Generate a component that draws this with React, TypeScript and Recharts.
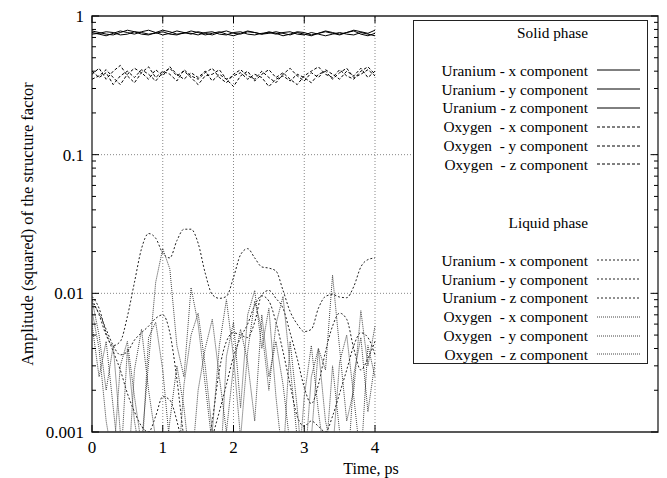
import React from "react";
import {
  LineChart,
  Line,
  XAxis,
  YAxis,
  ReferenceLine,
  ReferenceArea,
} from "recharts";

const TIME = [
  0, 0.1, 0.2, 0.3, 0.4, 0.5, 0.6, 0.7, 0.8, 0.9, 1.0, 1.1, 1.2, 1.3, 1.4, 1.5,
  1.6, 1.7, 1.8, 1.9, 2.0, 2.1, 2.2, 2.3, 2.4, 2.5, 2.6, 2.7, 2.8, 2.9, 3.0,
  3.1, 3.2, 3.3, 3.4, 3.5, 3.6, 3.7, 3.8, 3.9, 4.0,
];

// solid phase
const U_X_SOLID = [0.76, 0.74, 0.72, 0.75, 0.78, 0.76, 0.74, 0.77, 0.79, 0.76, 0.73, 0.75, 0.78, 0.76, 0.74, 0.77, 0.75, 0.73, 0.76, 0.78, 0.75, 0.74, 0.77, 0.76, 0.74, 0.75, 0.77, 0.75, 0.73, 0.76, 0.74, 0.72, 0.75, 0.77, 0.75, 0.73, 0.76, 0.78, 0.74, 0.72, 0.75];
const U_Y_SOLID = [0.78, 0.76, 0.74, 0.73, 0.76, 0.79, 0.77, 0.74, 0.73, 0.76, 0.79, 0.77, 0.74, 0.75, 0.78, 0.76, 0.73, 0.75, 0.77, 0.74, 0.72, 0.75, 0.78, 0.76, 0.74, 0.77, 0.75, 0.72, 0.74, 0.77, 0.76, 0.73, 0.75, 0.78, 0.76, 0.74, 0.76, 0.79, 0.77, 0.75, 0.79];
const U_Z_SOLID = [0.74, 0.75, 0.77, 0.76, 0.73, 0.74, 0.77, 0.76, 0.74, 0.75, 0.77, 0.74, 0.73, 0.76, 0.75, 0.73, 0.76, 0.77, 0.74, 0.73, 0.76, 0.77, 0.74, 0.73, 0.75, 0.76, 0.74, 0.76, 0.77, 0.74, 0.73, 0.76, 0.74, 0.72, 0.74, 0.76, 0.74, 0.73, 0.76, 0.74, 0.72];
const O_X_SOLID = [0.38, 0.42, 0.35, 0.4, 0.44, 0.37, 0.33, 0.39, 0.43, 0.36, 0.4, 0.38, 0.34, 0.41, 0.37, 0.35, 0.39, 0.42, 0.36, 0.33, 0.38, 0.41, 0.37, 0.35, 0.4, 0.36, 0.33, 0.38, 0.42, 0.37, 0.34, 0.39, 0.36, 0.41, 0.38, 0.35, 0.4, 0.37, 0.42, 0.36, 0.4];
const O_Y_SOLID = [0.35, 0.37, 0.41, 0.36, 0.32, 0.38, 0.42, 0.39, 0.35, 0.41, 0.37, 0.43, 0.38, 0.35, 0.39, 0.36, 0.4, 0.34, 0.38, 0.35, 0.31, 0.37, 0.4, 0.34, 0.38, 0.41, 0.36, 0.39, 0.35, 0.32, 0.37, 0.4, 0.43, 0.38, 0.36, 0.41, 0.37, 0.35, 0.4, 0.43, 0.38];
const O_Z_SOLID = [0.4, 0.36, 0.39, 0.32, 0.37, 0.4, 0.36, 0.41, 0.38, 0.34, 0.39, 0.42, 0.37, 0.4, 0.36, 0.32, 0.37, 0.38, 0.41, 0.35, 0.37, 0.39, 0.35, 0.38, 0.36, 0.31, 0.35, 0.37, 0.34, 0.38, 0.36, 0.33, 0.38, 0.4, 0.35, 0.39, 0.42, 0.36, 0.38, 0.41, 0.37];

// liquid phase
const U_X_LIQUID = [0.009, 0.007, 0.005, 0.0042, 0.0045, 0.0068, 0.012, 0.021, 0.027, 0.025, 0.0195, 0.018, 0.024, 0.029, 0.029, 0.023, 0.014, 0.0098, 0.0092, 0.0095, 0.013, 0.019, 0.021, 0.018, 0.0155, 0.0152, 0.0145, 0.0105, 0.0074, 0.006, 0.0053, 0.0055, 0.0078, 0.0095, 0.0098, 0.0094, 0.0093, 0.0112, 0.0155, 0.0175, 0.018];
const U_Y_LIQUID = [0.0085, 0.0072, 0.0055, 0.0042, 0.0036, 0.0038, 0.0046, 0.0052, 0.0058, 0.0066, 0.007, 0.0052, 0.0024, 0.0009, 0.0005, 0.0004, 0.0006, 0.0012, 0.0028, 0.0045, 0.0052, 0.005, 0.0048, 0.0062, 0.0098, 0.0105, 0.0092, 0.0078, 0.0052, 0.0034, 0.0021, 0.0016, 0.0022, 0.0038, 0.0058, 0.0072, 0.0065, 0.004, 0.0028, 0.0034, 0.0045];
const U_Z_LIQUID = [0.0095, 0.0078, 0.0052, 0.0038, 0.0028, 0.0019, 0.0014, 0.0011, 0.001, 0.0013, 0.0018, 0.0017, 0.0012, 0.0007, 0.0004, 0.0003, 0.0005, 0.0009, 0.0014, 0.0022, 0.0035, 0.0048, 0.006, 0.0082, 0.0096, 0.0088, 0.0062, 0.0038, 0.0022, 0.0013, 0.0011, 0.0012, 0.0011, 0.001, 0.0013, 0.0019, 0.0028, 0.0042, 0.0052, 0.0048, 0.0036];
const O_X_LIQUID = [0.0075, 0.004, 0.0012, 0.0006, 0.003, 0.0045, 0.0018, 0.0008, 0.0032, 0.012, 0.021, 0.015, 0.0042, 0.0025, 0.011, 0.006, 0.0022, 0.0008, 0.0004, 0.0035, 0.0062, 0.0015, 0.007, 0.0105, 0.004, 0.0078, 0.0018, 0.0006, 0.0045, 0.0015, 0.0004, 0.0009, 0.004, 0.0028, 0.0135, 0.004, 0.0012, 0.002, 0.0075, 0.003, 0.0058];
const O_Y_LIQUID = [0.006, 0.0025, 0.0045, 0.0015, 0.0005, 0.004, 0.0012, 0.0006, 0.0048, 0.0062, 0.0028, 0.0008, 0.0004, 0.0022, 0.005, 0.0072, 0.003, 0.001, 0.0042, 0.009, 0.0035, 0.0009, 0.0038, 0.0088, 0.0055, 0.002, 0.006, 0.0095, 0.003, 0.0009, 0.0005, 0.0025, 0.004, 0.0012, 0.0007, 0.0032, 0.005, 0.0018, 0.0006, 0.0042, 0.0025];
const O_Z_LIQUID = [0.009, 0.005, 0.002, 0.0042, 0.001, 0.0004, 0.0028, 0.0055, 0.002, 0.0009, 0.0004, 0.0012, 0.003, 0.0015, 0.0005, 0.002, 0.004, 0.0065, 0.0025, 0.001, 0.003, 0.0055, 0.0032, 0.0012, 0.007, 0.0025, 0.0045, 0.0022, 0.0008, 0.0004, 0.0018, 0.0042, 0.0014, 0.0006, 0.003, 0.001, 0.0004, 0.0026, 0.0048, 0.0014, 0.0032];

const X_TICKS = [0, 1, 2, 3, 4];
const Y_MAJOR = [0.001, 0.01, 0.1, 1];
const Y_MINOR = [
  0.002, 0.003, 0.004, 0.005, 0.006, 0.007, 0.008, 0.009,
  0.02, 0.03, 0.04, 0.05, 0.06, 0.07, 0.08, 0.09,
  0.2, 0.3, 0.4, 0.5, 0.6, 0.7, 0.8, 0.9,
];

const SERIES = [
  { key: "uxs", values: U_X_SOLID, name: "Uranium - x component", phase: "solid", stroke: "#000", dash: undefined, curve: "linear" },
  { key: "uys", values: U_Y_SOLID, name: "Uranium - y component", phase: "solid", stroke: "#000", dash: undefined, curve: "linear" },
  { key: "uzs", values: U_Z_SOLID, name: "Uranium - z component", phase: "solid", stroke: "#000", dash: undefined, curve: "linear" },
  { key: "oxs", values: O_X_SOLID, name: "Oxygen  - x component", phase: "solid", stroke: "#000", dash: "3 2", curve: "linear" },
  { key: "oys", values: O_Y_SOLID, name: "Oxygen  - y component", phase: "solid", stroke: "#000", dash: "3 2", curve: "linear" },
  { key: "ozs", values: O_Z_SOLID, name: "Oxygen  - z component", phase: "solid", stroke: "#000", dash: "3 2", curve: "linear" },
  { key: "uxl", values: U_X_LIQUID, name: "Uranium - x component", phase: "liquid", stroke: "#222", dash: "2 2", curve: "monotone" },
  { key: "uyl", values: U_Y_LIQUID, name: "Uranium - y component", phase: "liquid", stroke: "#222", dash: "2 2", curve: "monotone" },
  { key: "uzl", values: U_Z_LIQUID, name: "Uranium - z component", phase: "liquid", stroke: "#222", dash: "2 2", curve: "monotone" },
  { key: "oxl", values: O_X_LIQUID, name: "Oxygen  - x component", phase: "liquid", stroke: "#444", dash: "1 1", curve: "linear" },
  { key: "oyl", values: O_Y_LIQUID, name: "Oxygen  - y component", phase: "liquid", stroke: "#444", dash: "1 1", curve: "linear" },
  { key: "ozl", values: O_Z_LIQUID, name: "Oxygen  - z component", phase: "liquid", stroke: "#444", dash: "1 1", curve: "linear" },
];

const data = TIME.map((t, i) => {
  const row: { [k: string]: number } = { t };
  SERIES.forEach((s) => (row[s.key] = s.values[i]));
  return row;
});

const FONT = "'Liberation Serif', 'Times New Roman', serif";
const W = 659;
const H = 470;
// plot frame in chart coordinates, used for the inward tick marks
const PLOT = { left: 84, top: 8, right: 650, bottom: 424 };

function YTick(props: any) {
  const { y, payload } = props;
  const v = payload.value;
  const major = Y_MAJOR.includes(v);
  const len = major ? 7 : 4;
  return (
    <g>
      <line x1={PLOT.left} x2={PLOT.left + len} y1={y} y2={y} stroke="#000" />
      <line x1={PLOT.right} x2={PLOT.right - len} y1={y} y2={y} stroke="#000" />
      {major && (
        <text x={PLOT.left - 8} y={y + 6} textAnchor="end" fontSize={17} fontFamily={FONT} fill="#000">
          {String(v)}
        </text>
      )}
    </g>
  );
}

function XTick(props: any) {
  const { x, payload } = props;
  return (
    <g>
      <line x1={x} x2={x} y1={PLOT.bottom} y2={PLOT.bottom - 7} stroke="#000" />
      <line x1={x} x2={x} y1={PLOT.top} y2={PLOT.top + 7} stroke="#000" />
      <text x={x} y={PLOT.bottom + 21} textAnchor="middle" fontSize={17} fontFamily={FONT} fill="#000">
        {payload.value}
      </text>
    </g>
  );
}

function LegendRow({ name, stroke, dash }: { name: string; stroke: string; dash?: string }) {
  return (
    <div style={{ display: "flex", alignItems: "center", height: 18.8, whiteSpace: "pre" }}>
      <span style={{ width: 174, textAlign: "right" }}>{name}</span>
      <svg width={52} height={10}>
        <line x1={9} x2={52} y1={5} y2={5} stroke={stroke} strokeDasharray={dash} strokeWidth={1} />
      </svg>
    </div>
  );
}

function LegendBox() {
  const solid = SERIES.filter((s) => s.phase === "solid");
  const liquid = SERIES.filter((s) => s.phase === "liquid");
  return (
    <div
      style={{
        position: "absolute",
        left: 405,
        top: 12,
        width: 235,
        height: 344,
        boxSizing: "border-box",
        border: "1.5px solid #222",
        background: "#fff",
        fontFamily: FONT,
        fontSize: 15.3,
        color: "#000",
        lineHeight: 1,
      }}
    >
      <div style={{ position: "absolute", top: 2, left: 0 }}>
        <div style={{ width: 174, textAlign: "right", height: 19, lineHeight: "19px" }}>Solid phase</div>
      </div>
      <div style={{ position: "absolute", top: 40, left: 0 }}>
        {solid.map((s) => (
          <LegendRow key={s.key} name={s.name} stroke={s.stroke} dash={s.dash} />
        ))}
      </div>
      <div style={{ position: "absolute", top: 192, left: 0 }}>
        <div style={{ width: 174, textAlign: "right", height: 19, lineHeight: "19px" }}>Liquid phase</div>
      </div>
      <div style={{ position: "absolute", top: 230, left: 0 }}>
        {liquid.map((s) => (
          <LegendRow key={s.key} name={s.name} stroke={s.stroke} dash={s.dash} />
        ))}
      </div>
    </div>
  );
}

export default function App() {
  return (
    <div style={{ position: "relative", width: W, height: H }}>
      <LineChart
        width={W}
        height={H}
        data={data}
        margin={{ top: 8, right: 9, bottom: 0, left: 0 }}
        style={{ fontFamily: FONT }}
      >
        <XAxis
          dataKey="t"
          type="number"
          domain={[0, 8]}
          ticks={X_TICKS}
          interval={0}
          axisLine={false}
          tickLine={false}
          tick={<XTick />}
          height={46}
          allowDataOverflow
          label={{
            value: "Time, ps",
            position: "insideBottom",
            offset: 4,
            dx: -4,
            style: { fontFamily: FONT, fontSize: 16, fill: "#000" },
          }}
        />
        <YAxis
          type="number"
          scale="log"
          domain={[0.001, 1]}
          ticks={[...Y_MAJOR, ...Y_MINOR].sort((a, b) => a - b)}
          interval={0}
          allowDataOverflow
          axisLine={false}
          tickLine={false}
          tick={<YTick />}
          width={84}
          label={{
            value: "Amplitude (squared) of the structure factor",
            angle: -90,
            position: "insideLeft",
            offset: 19,
            style: { textAnchor: "middle", fontFamily: FONT, fontSize: 16.5, fill: "#000" },
          }}
        />
        {[0.1, 0.01].map((v) => (
          <ReferenceLine key={`h${v}`} y={v} stroke="#888" strokeDasharray="1 2" />
        ))}
        {[1, 2, 3, 4].map((v) => (
          <ReferenceLine key={`v${v}`} x={v} stroke="#888" strokeDasharray="1 2" />
        ))}
        {SERIES.map((s) => (
          <Line
            key={s.key}
            dataKey={s.key}
            type={s.curve as any}
            stroke={s.stroke}
            strokeDasharray={s.dash}
            strokeWidth={1}
            dot={false}
            isAnimationActive={false}
          />
        ))}
        <ReferenceArea x1={0} x2={8} y1={0.001} y2={1} fill="none" stroke="#222" strokeWidth={1.3} />
      </LineChart>
      <LegendBox />
    </div>
  );
}
